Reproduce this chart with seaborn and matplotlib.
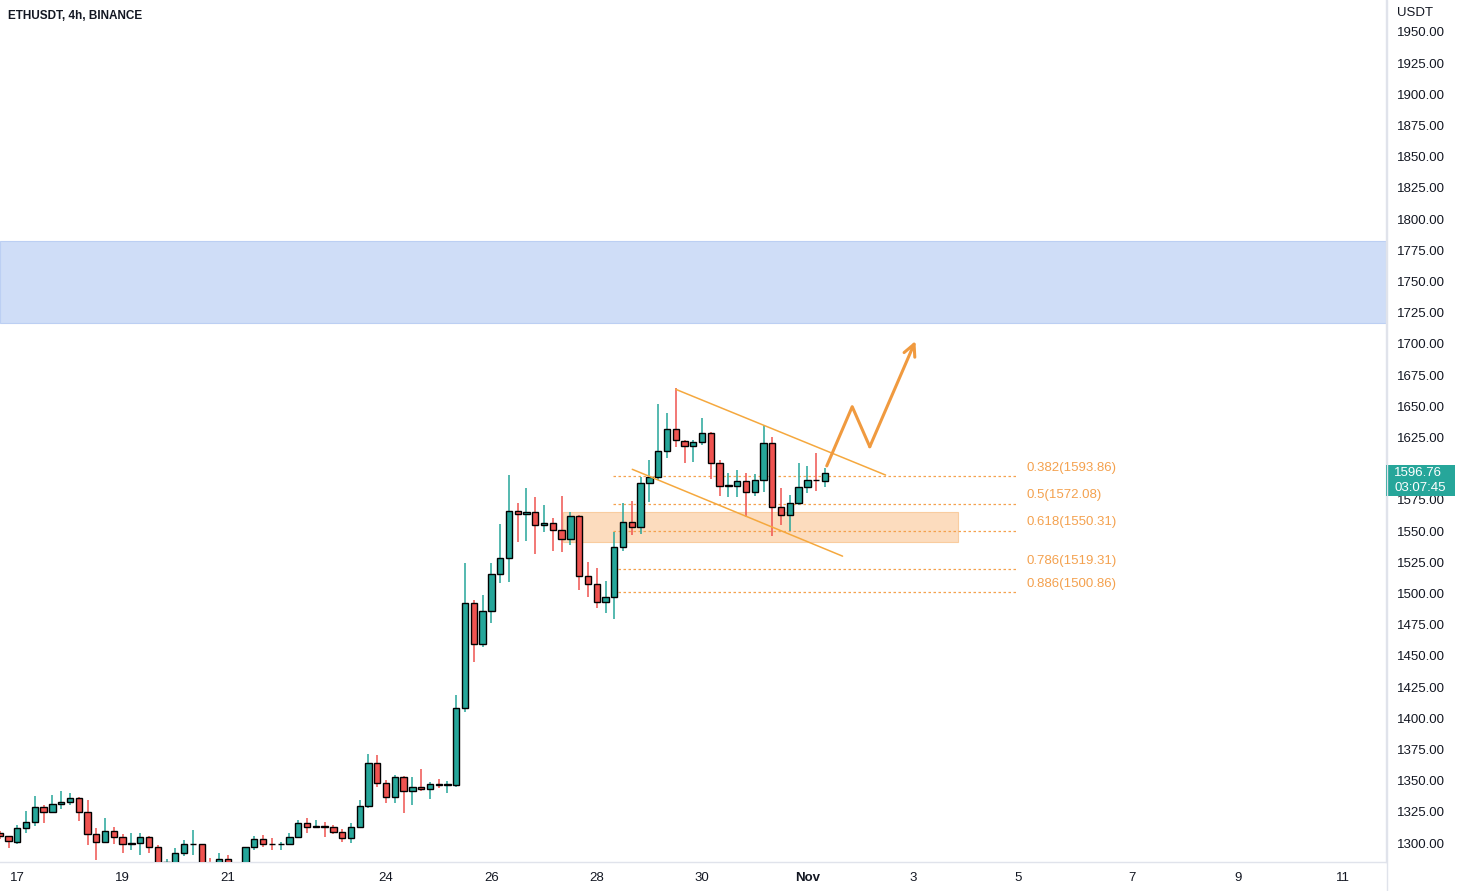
import matplotlib
matplotlib.use("Agg")
import matplotlib.pyplot as plt
import matplotlib.transforms as mtransforms
from matplotlib.patches import Rectangle
from matplotlib.lines import Line2D
import numpy as np
import pandas as pd
import seaborn as sns

# ---------------- data ----------------
candle_index = list(range(-2, 93))   # 4h candles, 0 = Oct 17 00:00
opens = [1307.7, 1305.6, 1301.1, 1311.8, 1316.6, 1328.6, 1324.6, 1331.0, 1332.6, 1335.8,
         1325.1, 1306.9, 1300.5, 1309.9, 1304.8, 1299.6, 1299.7, 1304.5, 1296.5, 1284.6,
         1282.0, 1291.7, 1298.9, 1299.2, 1283.0, 1281.0, 1286.9, 1280.0, 1283.0, 1296.5,
         1302.9, 1299.2, 1299.0, 1299.2, 1305.1, 1315.8, 1313.1, 1313.3, 1312.6, 1309.1,
         1303.7, 1313.1, 1329.9, 1363.9, 1347.8, 1336.6, 1352.6, 1341.4, 1344.6, 1343.0,
         1347.0, 1346.5, 1346.5, 1407.9, 1492.6, 1459.2, 1486.2, 1515.3, 1528.2, 1566.4,
         1563.7, 1565.0, 1554.9, 1556.2, 1550.9, 1543.4, 1562.1, 1514.0, 1507.3, 1492.9,
         1497.4, 1537.0, 1557.0, 1553.5, 1588.8, 1593.6, 1614.4, 1631.5, 1622.5, 1618.5,
         1621.1, 1628.3, 1604.3, 1586.4, 1586.4, 1589.9, 1581.6, 1590.9, 1620.3, 1569.0,
         1562.6, 1572.2, 1585.6, 1590.9, 1590.1]
highs = [1309.5, 1306.0, 1314.4, 1325.9, 1337.7, 1330.5, 1338.5, 1341.9, 1339.8, 1337.1,
         1334.5, 1311.8, 1319.8, 1312.6, 1306.9, 1307.7, 1307.7, 1305.6, 1298.4, 1287.0,
         1295.7, 1302.4, 1310.4, 1299.5, 1288.0, 1291.7, 1290.4, 1285.0, 1297.0, 1305.6,
         1306.4, 1303.7, 1301.1, 1307.7, 1318.4, 1319.8, 1318.4, 1317.1, 1314.4, 1311.0,
         1315.8, 1334.5, 1371.3, 1370.5, 1350.5, 1354.5, 1353.7, 1352.6, 1359.6, 1349.2,
         1351.3, 1349.7, 1418.6, 1524.7, 1494.8, 1498.8, 1524.1, 1555.7, 1594.9, 1572.2,
         1584.3, 1577.6, 1570.9, 1560.2, 1578.1, 1565.6, 1562.9, 1525.5, 1520.1, 1510.0,
         1549.5, 1572.8, 1574.4, 1593.1, 1607.0, 1651.8, 1644.4, 1664.4, 1623.0, 1623.0,
         1640.4, 1629.1, 1607.0, 1596.3, 1599.0, 1596.3, 1595.5, 1635.0, 1625.1, 1584.3,
         1578.9, 1604.8, 1602.2, 1612.8, 1600.3]
lows = [1303.0, 1295.7, 1298.9, 1307.7, 1313.9, 1315.8, 1324.0, 1327.3, 1330.5, 1317.9,
        1298.4, 1286.4, 1299.7, 1298.9, 1292.3, 1294.4, 1290.4, 1291.7, 1282.0, 1280.0,
        1280.0, 1289.6, 1290.4, 1278.0, 1275.0, 1278.0, 1276.0, 1275.0, 1280.0, 1294.4,
        1297.1, 1294.4, 1294.4, 1298.9, 1304.5, 1307.7, 1312.0, 1304.5, 1307.2, 1301.1,
        1299.7, 1311.8, 1328.3, 1344.6, 1332.3, 1332.3, 1324.3, 1330.7, 1341.9, 1335.0,
        1343.8, 1339.8, 1345.1, 1405.3, 1445.3, 1457.4, 1476.6, 1508.7, 1509.5, 1541.5,
        1542.3, 1531.6, 1549.5, 1534.3, 1533.5, 1538.8, 1502.8, 1497.4, 1488.6, 1484.6,
        1479.3, 1534.3, 1546.9, 1547.7, 1573.6, 1590.9, 1608.3, 1617.7, 1604.3, 1605.6,
        1619.0, 1591.5, 1578.1, 1577.0, 1577.0, 1561.5, 1578.1, 1581.6, 1546.1, 1554.9,
        1550.3, 1570.9, 1580.8, 1582.4, 1585.6]
closes = [1305.6, 1301.3, 1311.8, 1316.6, 1328.6, 1324.6, 1331.0, 1332.6, 1335.8, 1325.1,
          1306.9, 1300.5, 1309.9, 1304.8, 1298.9, 1299.9, 1304.5, 1296.5, 1284.2, 1284.9,
          1291.7, 1298.9, 1299.2, 1282.0, 1278.0, 1286.9, 1280.0, 1283.0, 1296.5, 1302.9,
          1299.2, 1299.0, 1299.2, 1305.1, 1315.8, 1313.1, 1313.3, 1313.0, 1309.1, 1303.7,
          1313.1, 1329.9, 1363.9, 1347.8, 1336.6, 1352.6, 1341.4, 1344.6, 1343.0, 1347.0,
          1346.5, 1346.7, 1407.9, 1492.6, 1459.2, 1486.2, 1515.3, 1528.2, 1566.4, 1563.7,
          1565.0, 1554.9, 1556.2, 1550.9, 1543.4, 1562.1, 1514.0, 1507.3, 1492.9, 1497.4,
          1537.0, 1557.0, 1553.5, 1588.8, 1593.6, 1614.4, 1631.5, 1623.0, 1618.5, 1621.1,
          1628.3, 1604.3, 1586.4, 1586.7, 1589.9, 1581.6, 1590.9, 1620.3, 1569.0, 1562.6,
          1572.2, 1585.6, 1590.9, 1590.6, 1596.76]

date_tick_pos = [0, 12, 24, 42, 54, 66, 78, 90, 102, 114, 127, 139, 151]
date_tick_labels = ["17", "19", "21", "24", "26", "28", "30", "Nov", "3", "5", "7", "9", "11"]
price_ticks = list(range(1300, 1951, 25))
hidden_price_ticks = [1600]   # covered by the last-price tag

fib_ratios = [0.382, 0.5, 0.618, 0.786, 0.886]
fib_prices = [1593.86, 1572.08, 1550.31, 1519.31, 1500.86]
fib_span = [67.8, 113.9]

blue_zone = [1716.8, 1782.5]
orange_zone_x = [62.15, 107.1]
orange_zone_y = [1541.2, 1565.3]

wedge_upper = [(75.0, 1663.6), (98.9, 1594.9)]
wedge_lower = [(70.05, 1599.5), (94.0, 1529.9)]
arrow_path_x = [92.2, 95.1, 97.1, 102.3]
arrow_path_y = [1602.2, 1649.7, 1617.6, 1702.3]

last_price = 1596.76
countdown = "03:07:45"

# ---------------- style ----------------
sns.set_theme(style="white")
plt.rcParams['font.family'] = ['Liberation Sans', 'DejaVu Sans']

UP = '#26a69a'
DOWN = '#ef5350'
ORANGE = '#f4a14e'
TEXT = '#131722'
BORDER = '#e0e3eb'

df = pd.DataFrame(dict(i=candle_index, open=opens, high=highs, low=lows, close=closes))
df['up'] = df['close'] >= df['open']
df['color'] = np.where(df['up'], UP, DOWN)
df['bottom'] = df[['open', 'close']].min(axis=1)
df['height'] = (df['close'] - df['open']).abs().clip(lower=0.5)

W, H = 1460, 891
fig = plt.figure(figsize=(W / 100, H / 100), dpi=100)
ax = fig.add_axes([0, 29 / H, 1386 / W, 862 / H])

# zones
ax.axhspan(blue_zone[0], blue_zone[1], facecolor='#cfddf7', edgecolor='#bccff3', lw=0.8, zorder=0.5)
ax.add_patch(Rectangle((orange_zone_x[0], orange_zone_y[0]),
                       orange_zone_x[1] - orange_zone_x[0], orange_zone_y[1] - orange_zone_y[0],
                       facecolor='#fcdcbe', edgecolor='#f9cc9f', lw=0.8, zorder=0.6))

# fib levels
ax.hlines(fib_prices, fib_span[0], fib_span[1], colors=ORANGE, linestyles=(0, (2, 2)), lw=0.9, zorder=1)
for r, p in zip(fib_ratios, fib_prices):
    ax.annotate(f"{r:g}({p:.2f})", xy=(fib_span[1] + 1.1, p), xytext=(0, 6.0),
                textcoords='offset points', va='center', ha='left', fontsize=9.5, color=ORANGE)

# candles
ax.vlines(df['i'], df['low'], df['high'], colors=df['color'], lw=1.1, zorder=2)
ax.bar(df['i'], df['height'], bottom=df['bottom'], width=0.72, color=df['color'],
       edgecolor='#000000', linewidth=1.0, zorder=3)

# wedge lines
for seg in (wedge_upper, wedge_lower):
    ax.plot([seg[0][0], seg[1][0]], [seg[0][1], seg[1][1]], color='#f5a83e', lw=1.1, zorder=4)

# projected path
ax.plot(arrow_path_x[:-1], arrow_path_y[:-1], color='#f09a3f', lw=2.2, zorder=5,
        solid_capstyle='round', solid_joinstyle='round')
ax.annotate('', xy=(arrow_path_x[-1], arrow_path_y[-1]), xytext=(arrow_path_x[-2], arrow_path_y[-2]),
            arrowprops=dict(arrowstyle='->,head_length=0.7,head_width=0.35', lw=2.2, color='#f09a3f',
                            shrinkA=0, shrinkB=0), zorder=5)

# axes
ax.set_xlim(-1.97, 155.9)
ax.set_ylim(1284.8, 1975.6)
ax.yaxis.tick_right()
ax.set_yticks(price_ticks)
ax.set_yticklabels(["" if v in hidden_price_ticks else f"{v:.2f}" for v in price_ticks])
ax.set_xticks(date_tick_pos)
ax.set_xticklabels(date_tick_labels)
for lab in ax.get_xticklabels():
    if lab.get_text() == "Nov":
        lab.set_fontweight('bold')
ax.tick_params(axis='y', length=0, pad=8, labelsize=9.5, labelcolor=TEXT)
ax.tick_params(axis='x', length=0, pad=7, labelsize=9.5, labelcolor=TEXT)
ax.grid(False)
for s in ['top', 'left']:
    ax.spines[s].set_visible(False)
for s in ['right', 'bottom']:
    ax.spines[s].set_color(BORDER)
    ax.spines[s].set_linewidth(1)
ax.set_facecolor('white')

# last price tag
trans = mtransforms.blended_transform_factory(ax.transAxes, ax.transData)
ppu = 862 / (1975.6 - 1284.8)
ax.add_patch(Rectangle((1.0, last_price - 23 / ppu), 69 / 1386, 31 / ppu, transform=trans,
                       facecolor=UP, edgecolor='none', clip_on=False, zorder=10))
ax.text(1.0 + 8 / 1386, last_price, f"{last_price:.2f}", transform=trans, color='white',
        fontsize=9.5, va='center', ha='left', zorder=11, clip_on=False)
ax.text(1.0 + 8 / 1386, last_price - 15 / ppu, countdown, transform=trans, color='white',
        fontsize=9.5, va='center', ha='left', zorder=11, clip_on=False)

# figure texts / borders
fig.add_artist(Line2D([1386.5 / W] * 2, [0, 1], transform=fig.transFigure, color=BORDER, lw=1))
fig.text(1397 / W, 1 - 13 / H, "USDT", ha='left', va='center', fontsize=9.5, color=TEXT)
fig.text(8 / W, 1 - 16 / H, "ETHUSDT, 4h, BINANCE", ha='left', va='center', fontsize=8.5,
         fontweight='bold', color=TEXT)

fig.savefig("out.png", dpi=100)
